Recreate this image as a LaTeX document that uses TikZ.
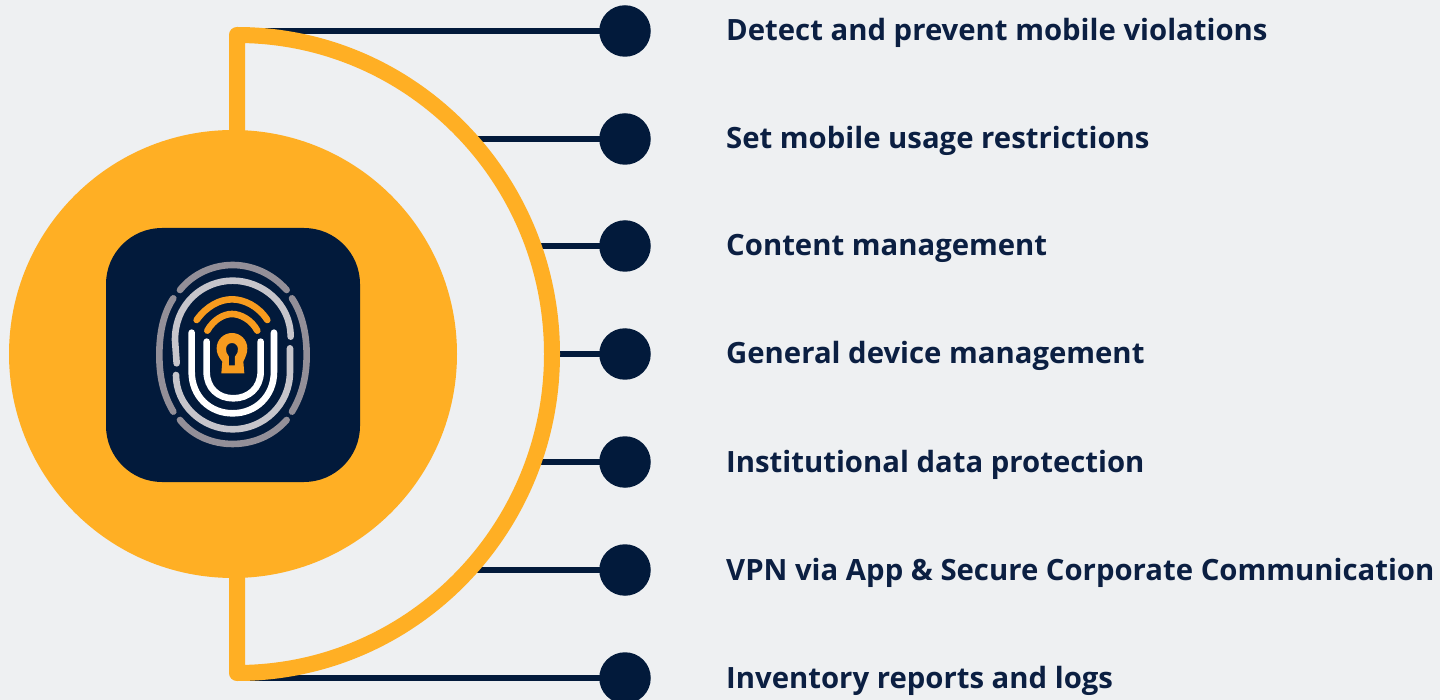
\documentclass[tikz,border=0pt]{standalone}
\usepackage{fontspec}
\setmainfont{Open Sans}
\definecolor{bgc}{HTML}{EEF0F2}
\definecolor{amber}{HTML}{FFAF24}
\definecolor{navy}{HTML}{021A3B}
\definecolor{inktext}{HTML}{0B1F42}
\definecolor{ringa}{HTML}{938F98}
\definecolor{ringb}{HTML}{C6C5CB}
\definecolor{logoor}{HTML}{F79B1E}
\tikzset{
  dotnode/.style={circle,fill=navy,draw=none,minimum size=51.5pt,inner sep=0pt},
  labelnode/.style={anchor=base west,inner sep=0pt,text=inktext,font=\fontsize{29.3}{35}\selectfont\bfseries},
  conn/.style={draw=navy,line width=5.5pt},
  halo/.style={draw=amber,line width=16pt,line join=round},
  fpa/.style={draw=ringa,line width=6.6pt,line cap=round},
  fpb/.style={draw=ringb,line width=6.6pt,line cap=round},
  fpw/.style={draw=white,line width=6.6pt,line cap=round},
  fpo/.style={draw=logoor,line width=6.6pt,line cap=round},
}
\begin{document}
\begin{tikzpicture}[x=1pt,y=-1pt]
\clip (0,0) rectangle (1440,700);
\fill[bgc] (0,0) rectangle (1440,700);
% dots, labels and connectors (each connector ends on the half ring)
\foreach \n/\yy/\xe/\t in {1/31/238/Detect and prevent mobile violations,
  2/139/470/Set mobile usage restrictions,
  3/246/533/Content management,
  4/354/552/General device management,
  5/462/533/Institutional data protection,
  6/570/470/VPN via App \& Secure Corporate Communication,
  7/678/238/Inventory reports and logs}{
  \node[dotnode] (dot\n) at (625,\yy) {};
  \coordinate (st\n) at (\xe,\yy);
  \node[labelnode] (lab\n) at (726,\yy+10) {\t};
  \draw[conn] (dot\n.center) -- (st\n);
}
% half ring
\draw[halo] (237,35) arc[start angle=-90,end angle=90,x radius=315,y radius=319] -- cycle;
% disc and tile
\node[circle,fill=amber,minimum size=448pt,inner sep=0pt] (disc) at (233,354) {};
\node[rectangle,rounded corners=56pt,fill=navy,minimum size=254pt,inner sep=0pt] (tile) at (233,355) {};
% fingerprint logo
\begin{scope}[shift={(130,240)},x=0.3333pt,y=-0.3333pt]
% outer grey
\draw[fpa] (150,150) .. controls (190,100) and (250,75) .. (308,75) .. controls (366,75) and (426,100) .. (470,150);
\draw[fpa] (150,540) .. controls (190,590) and (250,612) .. (308,612) .. controls (366,612) and (426,590) .. (470,540);
\draw[fpa] (130,175) .. controls (100,220) and (88,280) .. (88,345) .. controls (88,410) and (100,465) .. (130,515);
\draw[fpa] (486,175) .. controls (516,220) and (530,280) .. (530,345) .. controls (530,410) and (516,465) .. (486,515);
% second ring
\draw[fpb] (140,370) -- (135,300) .. controls (135,190) and (220,122) .. (308,122) .. controls (396,122) and (482,190) .. (482,290);
\draw[fpb] (480,325) -- (480,395) .. controls (480,495) and (400,568) .. (308,568) .. controls (216,568) and (138,495) .. (138,405);
% white U
\draw[fpw] (185,278) -- (185,395) .. controls (185,470) and (240,520) .. (308,520) .. controls (376,520) and (432,470) .. (432,395) -- (432,278);
\draw[fpw] (230,305) -- (230,395) .. controls (230,445) and (265,475) .. (310,475) .. controls (355,475) and (392,445) .. (392,395) -- (392,305);
% orange arcs
\draw[fpo] (200,240) .. controls (230,198) and (270,178) .. (306,178) .. controls (342,178) and (385,198) .. (412,240);
\draw[fpo] (232,272) .. controls (250,240) and (280,222) .. (306,222) .. controls (332,222) and (365,240) .. (382,272);
% keyhole
\fill[logoor,even odd rule]
  (274,400) -- (277,365) .. controls (265,350) and (260,340) .. (260,325)
  arc[start angle=180,end angle=360,radius=46]
  .. controls (352,340) and (347,350) .. (340,365) -- (343,400) -- cycle
  (297,376) -- (297,350) .. controls (290,342) and (288,335) .. (288,327)
  arc[start angle=180,end angle=360,radius=18]
  .. controls (324,335) and (322,342) .. (315,350) -- (315,376) -- cycle;
\end{scope}
\end{tikzpicture}
\end{document}
